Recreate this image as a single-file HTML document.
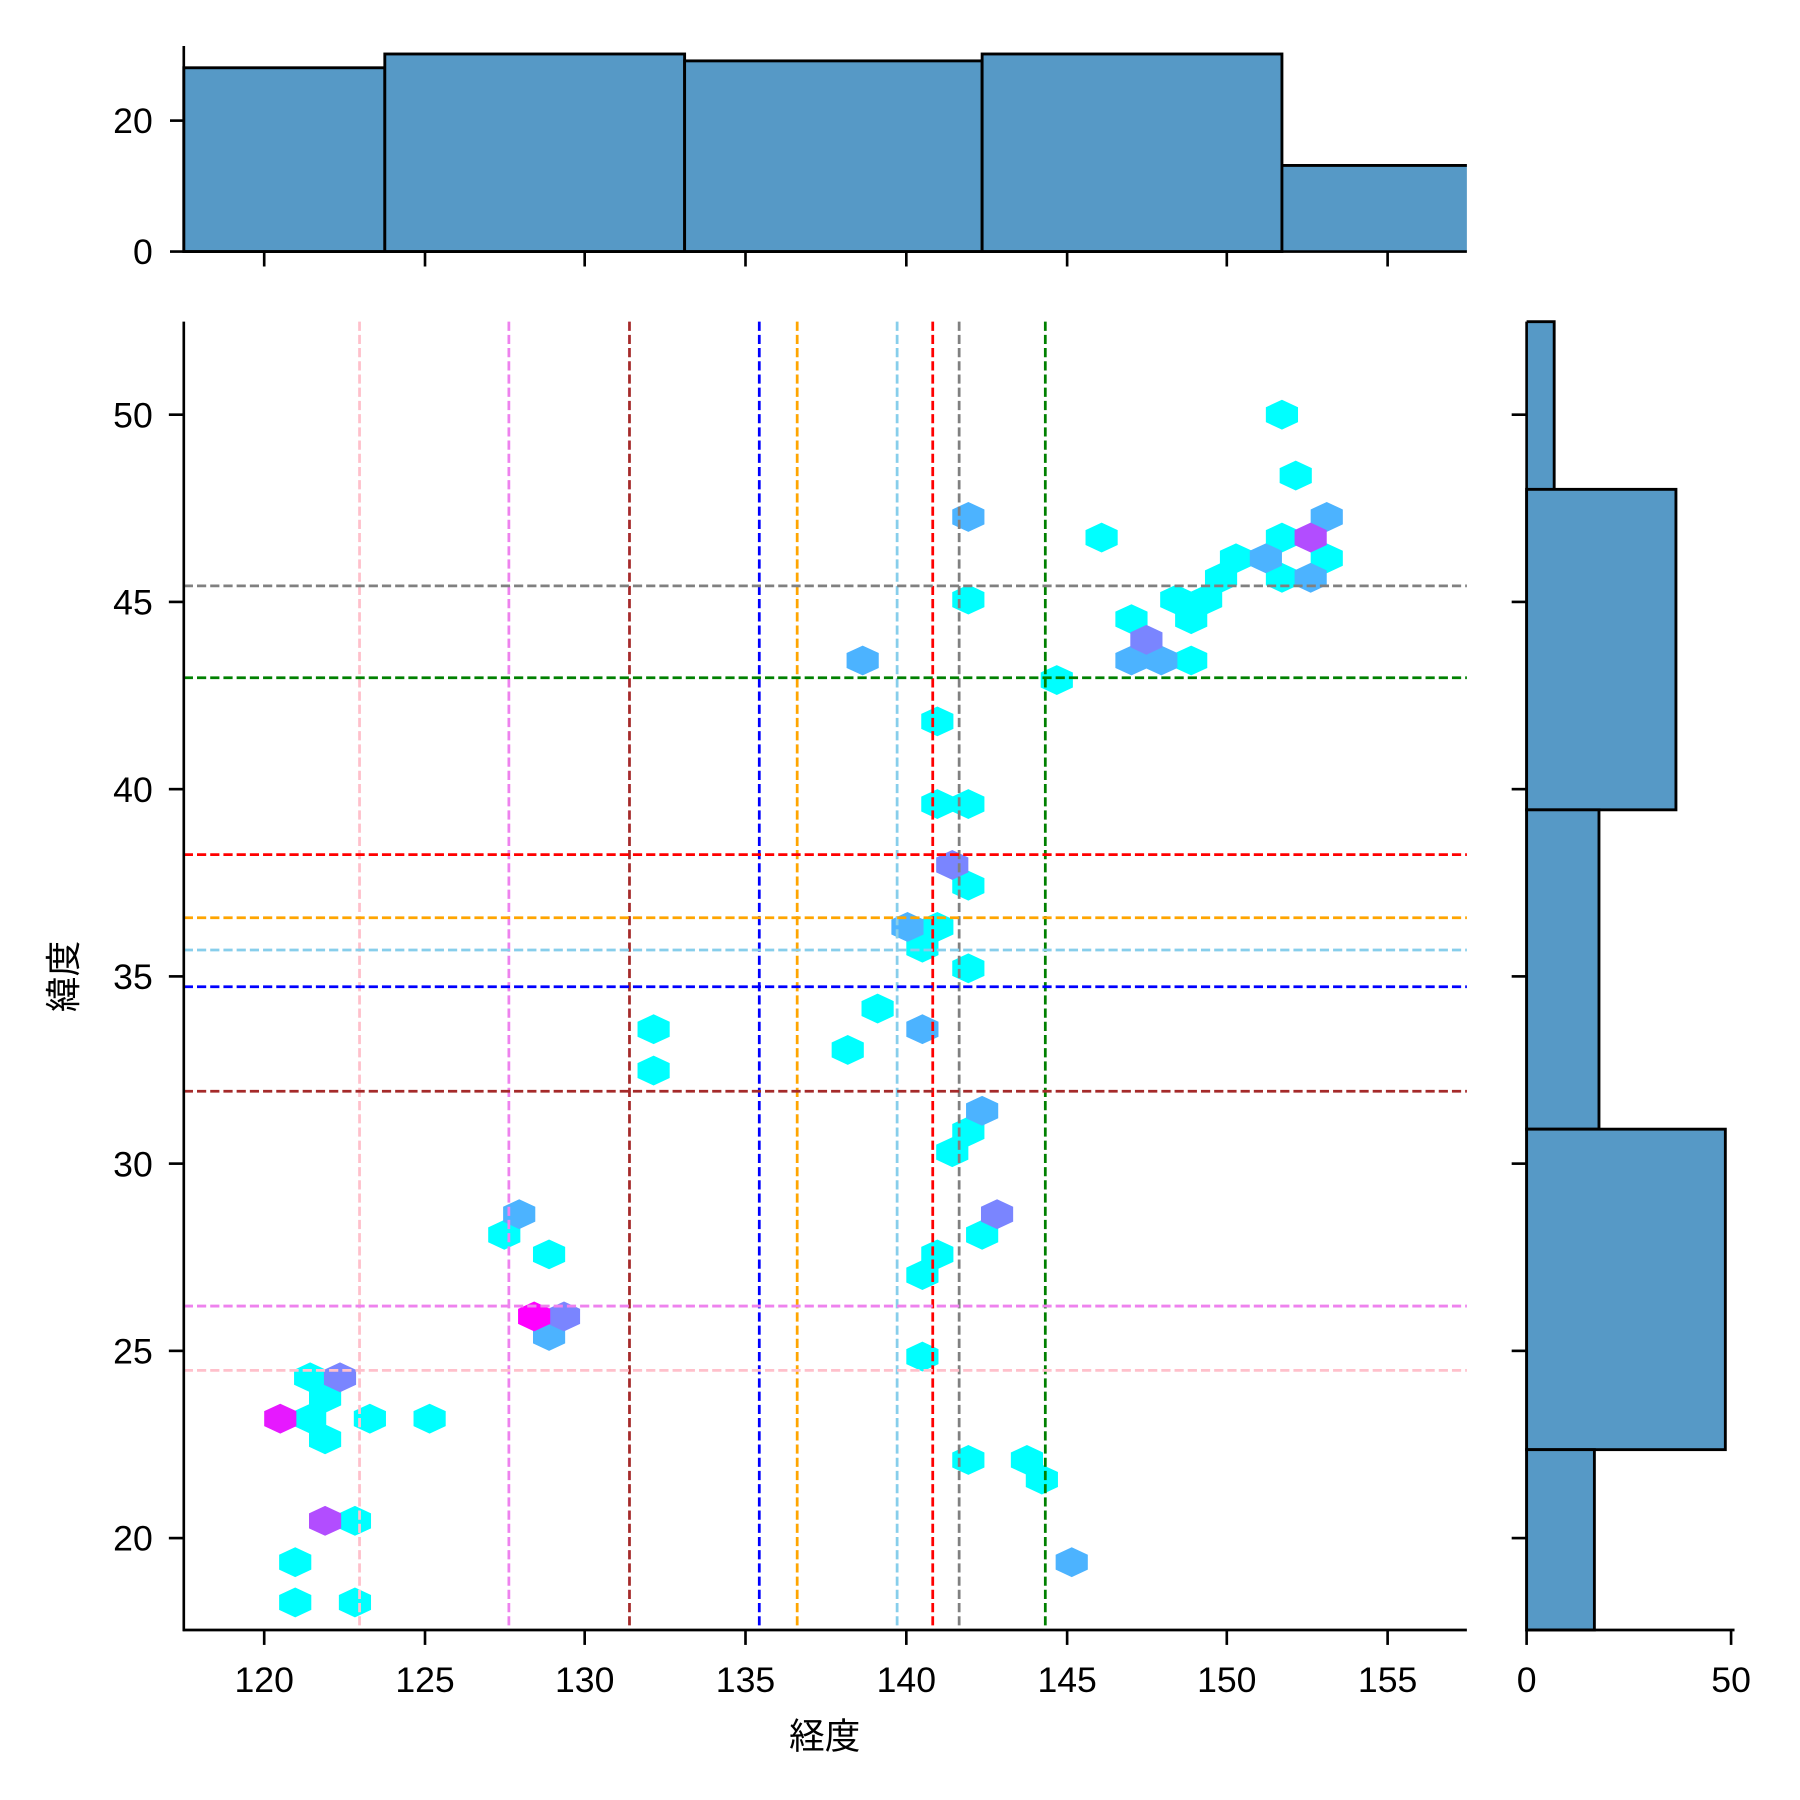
<!DOCTYPE html>
<html><head><meta charset="utf-8"><style>html,body{margin:0;padding:0;background:#fff}svg{display:block}</style></head>
<body>
<svg width="1800" height="1800" viewBox="0 0 1567 1567" xmlns="http://www.w3.org/2000/svg" font-family="Liberation Sans, Noto Sans CJK JP, sans-serif">
<defs><polygon id="h" points="0,-13 14,-6.5 14,6.5 0,13 -14,6.5 -14,-6.5"/></defs>
<rect width="1567" height="1567" fill="#fff"/>
<g fill="#5699c6" stroke="#000" stroke-width="2.5">
<rect x="160" y="59" width="175" height="160"/>
<rect x="335" y="47" width="261" height="172"/>
<rect x="596" y="53" width="259" height="166"/>
<rect x="855" y="47" width="261" height="172"/>
<rect x="1116" y="144" width="161" height="75" stroke="none"/>
<path d="M1116,219 V144 H1277" fill="none"/>
</g>
<g stroke="#000" stroke-width="2.3">
<line x1="160" y1="40" x2="160" y2="220"/>
<line x1="159" y1="219" x2="1277" y2="219"/>
<line x1="148" y1="219" x2="160" y2="219"/><line x1="148" y1="105" x2="160" y2="105"/>
<line x1="230" y1="219" x2="230" y2="232"/><line x1="370" y1="219" x2="370" y2="232"/><line x1="509" y1="219" x2="509" y2="232"/><line x1="649" y1="219" x2="649" y2="232"/><line x1="789" y1="219" x2="789" y2="232"/><line x1="929" y1="219" x2="929" y2="232"/><line x1="1068" y1="219" x2="1068" y2="232"/><line x1="1208" y1="219" x2="1208" y2="232"/>
</g>
<g font-size="31" text-anchor="end"><text x="133" y="230">0</text><text x="133" y="116">20</text></g>
<g fill="#5699c6" stroke="#000" stroke-width="2.5">
<rect x="1329" y="280" width="24" height="146" stroke="none"/>
<path d="M1329,280 H1353 V426" fill="none"/>
<rect x="1329" y="426" width="130" height="279"/>
<rect x="1329" y="705" width="63" height="278"/>
<rect x="1329" y="983" width="173" height="279"/>
<rect x="1329" y="1262" width="59" height="157"/>
</g>
<g stroke="#000" stroke-width="2.3">
<line x1="1329" y1="280" x2="1329" y2="1420"/>
<line x1="1328" y1="1419" x2="1510" y2="1419"/>
<line x1="1329" y1="1419" x2="1329" y2="1432"/><line x1="1507" y1="1419" x2="1507" y2="1432"/>
<line x1="1316" y1="361" x2="1329" y2="361"/><line x1="1316" y1="524" x2="1329" y2="524"/><line x1="1316" y1="687" x2="1329" y2="687"/><line x1="1316" y1="850" x2="1329" y2="850"/><line x1="1316" y1="1013" x2="1329" y2="1013"/><line x1="1316" y1="1176" x2="1329" y2="1176"/><line x1="1316" y1="1339" x2="1329" y2="1339"/>
</g>
<g font-size="31" text-anchor="middle"><text x="1329" y="1473">0</text><text x="1507" y="1473">50</text></g>
<g>
<g fill="#00ffff">
<use href="#h" x="1116" y="361"/><use href="#h" x="1128" y="414"/><use href="#h" x="959" y="468"/><use href="#h" x="1116" y="468"/><use href="#h" x="1076" y="486"/><use href="#h" x="1155" y="486"/><use href="#h" x="1063" y="503"/><use href="#h" x="1116" y="503"/><use href="#h" x="843" y="522"/><use href="#h" x="1024" y="522"/><use href="#h" x="1050" y="522"/><use href="#h" x="985" y="539"/><use href="#h" x="1037" y="539"/><use href="#h" x="1037" y="575"/><use href="#h" x="920" y="592"/><use href="#h" x="816" y="628"/><use href="#h" x="816" y="700"/><use href="#h" x="843" y="700"/><use href="#h" x="843" y="771"/><use href="#h" x="816" y="807"/><use href="#h" x="803" y="825"/><use href="#h" x="843" y="843"/><use href="#h" x="764" y="878"/><use href="#h" x="738" y="914"/><use href="#h" x="569" y="896"/><use href="#h" x="569" y="932"/><use href="#h" x="843" y="985"/><use href="#h" x="829" y="1003"/><use href="#h" x="855" y="1075"/><use href="#h" x="439" y="1075"/><use href="#h" x="478" y="1092"/><use href="#h" x="816" y="1092"/><use href="#h" x="803" y="1110"/><use href="#h" x="803" y="1181"/><use href="#h" x="270" y="1199"/><use href="#h" x="283" y="1217"/><use href="#h" x="270" y="1235"/><use href="#h" x="322" y="1235"/><use href="#h" x="374" y="1235"/><use href="#h" x="283" y="1253"/><use href="#h" x="843" y="1271"/><use href="#h" x="894" y="1271"/><use href="#h" x="907" y="1288"/><use href="#h" x="309" y="1324"/><use href="#h" x="257" y="1360"/><use href="#h" x="257" y="1395"/><use href="#h" x="309" y="1395"/>
</g>
<g fill="#4cb3ff">
<use href="#h" x="843" y="450"/><use href="#h" x="1155" y="450"/><use href="#h" x="1102" y="486"/><use href="#h" x="1141" y="503"/><use href="#h" x="985" y="575"/><use href="#h" x="1011" y="575"/><use href="#h" x="751" y="575"/><use href="#h" x="790" y="807"/><use href="#h" x="803" y="896"/><use href="#h" x="855" y="967"/><use href="#h" x="452" y="1057"/><use href="#h" x="478" y="1163"/><use href="#h" x="933" y="1360"/>
</g>
<g fill="#7a85ff">
<use href="#h" x="998" y="557"/><use href="#h" x="829" y="753"/><use href="#h" x="868" y="1057"/><use href="#h" x="491" y="1146"/><use href="#h" x="296" y="1199"/>
</g>
<g fill="#b24dff"><use href="#h" x="1141" y="468"/><use href="#h" x="283" y="1324"/></g>
<use href="#h" x="465" y="1146" fill="#ff00ff"/>
<use href="#h" x="244" y="1235" fill="#e619ff"/>
</g>
<g stroke-width="2.4" stroke-dasharray="8,3.5" fill="none">
<line x1="313" y1="280" x2="313" y2="1419" stroke="#ffc0cb"/>
<line x1="443" y1="280" x2="443" y2="1419" stroke="#ee82ee"/>
<line x1="548" y1="280" x2="548" y2="1419" stroke="#a52a2a"/>
<line x1="661" y1="280" x2="661" y2="1419" stroke="#0000ff"/>
<line x1="694" y1="280" x2="694" y2="1419" stroke="#ffa500"/>
<line x1="781" y1="280" x2="781" y2="1419" stroke="#87ceeb"/>
<line x1="812" y1="280" x2="812" y2="1419" stroke="#ff0000"/>
<line x1="835" y1="280" x2="835" y2="1419" stroke="#808080"/>
<line x1="910" y1="280" x2="910" y2="1419" stroke="#008000"/>
<line x1="160" y1="510" x2="1277" y2="510" stroke="#808080"/>
<line x1="160" y1="590" x2="1277" y2="590" stroke="#008000"/>
<line x1="160" y1="744" x2="1277" y2="744" stroke="#ff0000"/>
<line x1="160" y1="799" x2="1277" y2="799" stroke="#ffa500"/>
<line x1="160" y1="827" x2="1277" y2="827" stroke="#87ceeb"/>
<line x1="160" y1="859" x2="1277" y2="859" stroke="#0000ff"/>
<line x1="160" y1="950" x2="1277" y2="950" stroke="#a52a2a"/>
<line x1="160" y1="1137" x2="1277" y2="1137" stroke="#ee82ee"/>
<line x1="160" y1="1193" x2="1277" y2="1193" stroke="#ffc0cb"/>
</g>
<g stroke="#000" stroke-width="2.3">
<line x1="160" y1="280" x2="160" y2="1420"/>
<line x1="159" y1="1419" x2="1277" y2="1419"/>
<line x1="230" y1="1419" x2="230" y2="1432"/><line x1="370" y1="1419" x2="370" y2="1432"/><line x1="509" y1="1419" x2="509" y2="1432"/><line x1="649" y1="1419" x2="649" y2="1432"/><line x1="789" y1="1419" x2="789" y2="1432"/><line x1="929" y1="1419" x2="929" y2="1432"/><line x1="1068" y1="1419" x2="1068" y2="1432"/><line x1="1208" y1="1419" x2="1208" y2="1432"/>
<line x1="147" y1="361" x2="160" y2="361"/><line x1="147" y1="524" x2="160" y2="524"/><line x1="147" y1="687" x2="160" y2="687"/><line x1="147" y1="850" x2="160" y2="850"/><line x1="147" y1="1013" x2="160" y2="1013"/><line x1="147" y1="1176" x2="160" y2="1176"/><line x1="147" y1="1339" x2="160" y2="1339"/>
</g>
<g font-size="31" text-anchor="middle">
<text x="230" y="1473">120</text><text x="370" y="1473">125</text><text x="509" y="1473">130</text><text x="649" y="1473">135</text><text x="789" y="1473">140</text><text x="929" y="1473">145</text><text x="1068" y="1473">150</text><text x="1208" y="1473">155</text>
</g>
<g font-size="31" text-anchor="end">
<text x="133" y="372">50</text><text x="133" y="535">45</text><text x="133" y="698">40</text><text x="133" y="861">35</text><text x="133" y="1024">30</text><text x="133" y="1187">25</text><text x="133" y="1350">20</text>
</g>
<text x="718" y="1522" font-size="31" text-anchor="middle">経度</text>
<text transform="translate(66,850) rotate(-90)" font-size="31" text-anchor="middle">緯度</text>
</svg>
</body></html>
